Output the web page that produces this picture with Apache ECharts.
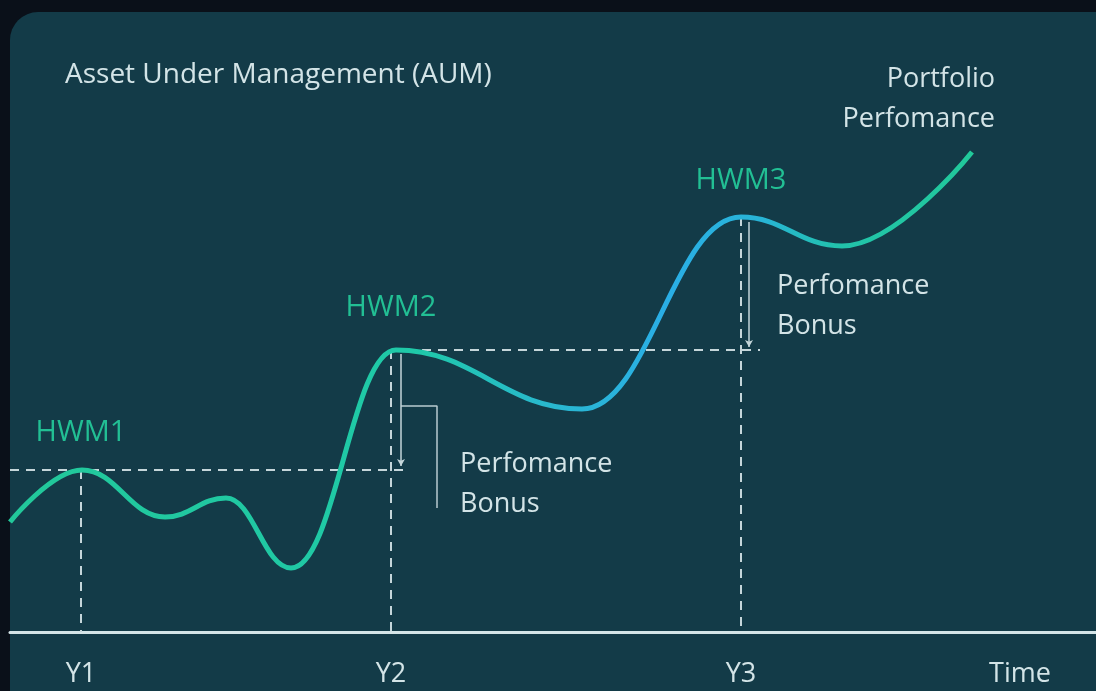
<!DOCTYPE html>
<html>
<head>
<meta charset="utf-8">
<script src="https://cdn.jsdelivr.net/npm/echarts@6/dist/echarts.min.js"></script>
<style>
  html, body { margin: 0; padding: 0; background: #0a1019; overflow: hidden; }
  .card {
    position: absolute; left: 10px; top: 12px; width: 1120px; height: 720px;
    border-radius: 28px; background: #133b48;
  }
  #chart { position: absolute; left: 0; top: 0; width: 1096px; height: 691px; }
</style>
</head>
<body>
<div class="card"></div>
<div id="chart"></div>
<script>
// portfolio curve turning points: [time, aum]
const perfTime = [10, 82, 165, 226, 291, 396, 582, 741, 842, 972]
const perfAum  = [110, 162, 115, 134, 64, 282, 223, 415, 386, 480]

const yearLabels = ['Y1', 'Y2', 'Y3', 'Time']
const yearTicks = [81, 391, 741, 1020]

const hwmLabels = ['HWM1', 'HWM2', 'HWM3']
const hwmValue = [162, 282, 415]

// performance bonus arrows: [x, from, to]
const bonusX = [401, 749]
const bonusFrom = [278, 410]
const bonusTo = [166, 285]

// bracket next to first bonus
const bracketTime = [401, 437, 437]
const bracketAum = [226, 226, 124]

const font = 'Open Sans'
const textColor = '#d3e4e7'
const hwmColor = '#22bf94'
const dashColor = '#c5d6da'

const chart = echarts.init(document.getElementById('chart'))

const dashed = [
  // horizontal HWM levels
  [{coord: [10, hwmValue[0]]}, {coord: [410, hwmValue[0]]}],
  [{coord: [406, hwmValue[1]]}, {coord: [760, hwmValue[1]]}],
  // verticals down to the time axis
  [{coord: [yearTicks[0], hwmValue[0]]}, {coord: [yearTicks[0], 0]}],
  [{coord: [yearTicks[1], hwmValue[1]]}, {coord: [yearTicks[1], 0]}],
  [{coord: [yearTicks[2], hwmValue[2]]}, {coord: [yearTicks[2], 0]}]
]

const arrows = bonusX.map((x, i) => [
  {coord: [x, bonusFrom[i]], symbol: 'none'},
  {coord: [x, bonusTo[i]], symbol: 'arrow', symbolSize: [6, 7]}
])

const hwmOffset = [-37, -42, -36]

const option = {
  animation: false,
  title: {
    text: 'Asset Under Management (AUM)',
    left: 60, top: 56,
    textStyle: {color: textColor, fontSize: 28, fontWeight: 'normal', fontFamily: font}
  },
  grid: {left: 10, right: 0, top: 0, bottom: 59},
  xAxis: {
    type: 'value', min: 10, max: 1096,
    axisLine: {show: true, lineStyle: {color: '#d4e5e8', width: 3}},
    axisTick: {show: false},
    splitLine: {show: false},
    axisLabel: {
      customValues: yearTicks,
      formatter: v => yearLabels[yearTicks.indexOf(v)],
      color: textColor, fontSize: 27, fontFamily: font, margin: 29
    }
  },
  yAxis: {
    type: 'value', min: 0, max: 632,
    axisLine: {show: false}, axisTick: {show: false},
    axisLabel: {show: false}, splitLine: {show: false}
  },
  series: [
    {
      name: 'Portfolio Perfomance',
      type: 'line',
      data: perfTime.map((t, i) => [t, perfAum[i]]),
      smooth: 0.42,
      smoothMonotone: 'x',
      showSymbol: false,
      z: 5,
      lineStyle: {
        width: 5,
        color: new echarts.graphic.LinearGradient(0, 0, 1, 0, [
          {offset: 0, color: '#22c89a'},
          {offset: 0.42, color: '#1fc9a8'},
          {offset: 0.56, color: '#29b8cf'},
          {offset: 0.68, color: '#2aaee6'},
          {offset: 0.78, color: '#28b4d6'},
          {offset: 0.86, color: '#22c3ab'},
          {offset: 1, color: '#21c99a'}
        ])
      },
      markLine: {
        silent: true,
        symbol: 'none',
        label: {show: false},
        lineStyle: {color: dashColor, type: [9, 7], width: 2},
        data: dashed
      },
      markPoint: {
        silent: true,
        symbol: 'circle', symbolSize: 0,
        data: [
          ...hwmLabels.map((name, i) => ({
            coord: [yearTicks[i], hwmValue[i]],
            label: {show: true, formatter: name, offset: [0, hwmOffset[i]], color: hwmColor, fontSize: 29, fontFamily: font}
          })),
          {
            coord: [perfTime[perfTime.length - 1], perfAum[perfAum.length - 1]],
            label: {show: true, formatter: 'Portfolio\nPerfomance', align: 'right', offset: [23, -53],
              color: textColor, fontSize: 27, lineHeight: 40, fontFamily: font}
          },
          {
            coord: [460, 150],
            label: {show: true, formatter: 'Perfomance\nBonus', align: 'left', offset: [0, 2],
              color: textColor, fontSize: 27, lineHeight: 40, fontFamily: font}
          },
          {
            coord: [777, 328],
            label: {show: true, formatter: 'Perfomance\nBonus', align: 'left', offset: [0, 2],
              color: textColor, fontSize: 27, lineHeight: 40, fontFamily: font}
          }
        ]
      }
    },
    {
      name: 'bonus',
      type: 'line',
      data: bracketTime.map((t, i) => [t, bracketAum[i]]),
      showSymbol: false,
      silent: true,
      lineStyle: {color: '#b9cbd0', width: 1.5},
      markLine: {
        silent: true,
        label: {show: false},
        lineStyle: {color: '#c5d6da', type: 'solid', width: 1.5},
        data: arrows
      }
    }
  ]
}

chart.setOption(option)
</script>
</body>
</html>
